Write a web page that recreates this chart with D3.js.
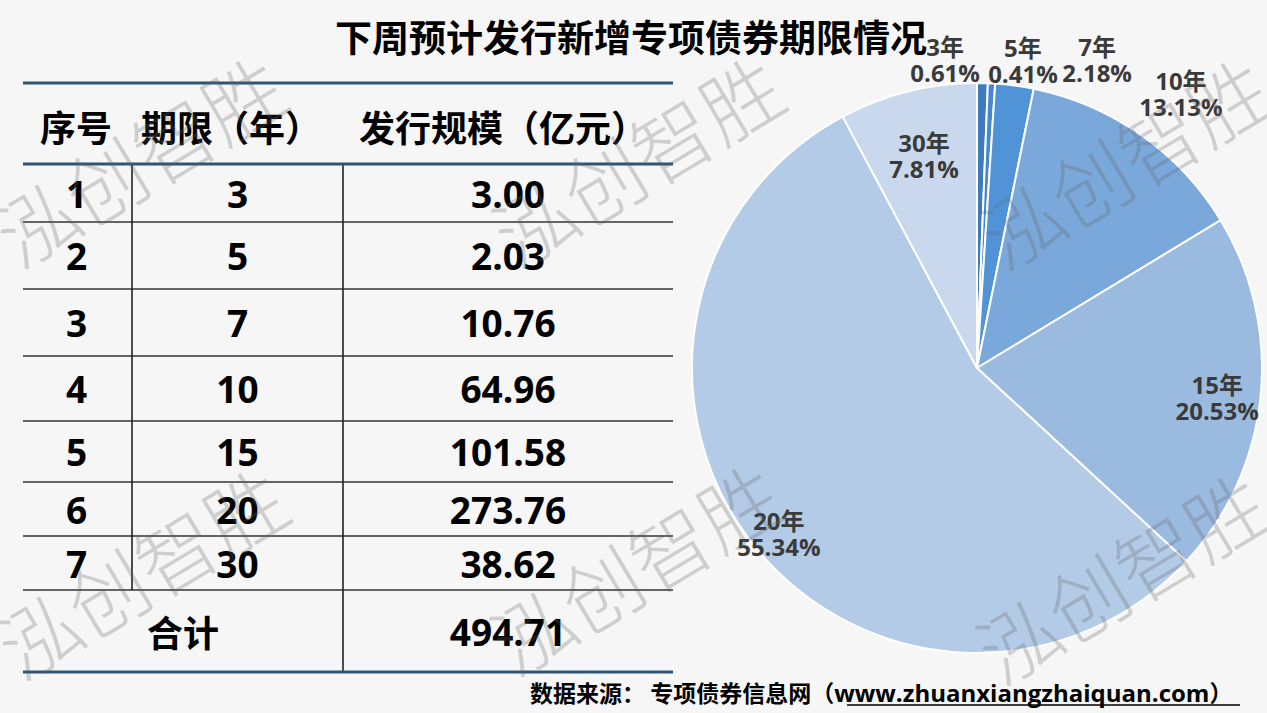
<!DOCTYPE html>
<html>
<head>
<meta charset="utf-8">
<script src="https://cdn.jsdelivr.net/npm/d3@7"></script>
<style>
  html, body { margin: 0; padding: 0; background: #f6f6f6; }
  svg { display: block; }
</style>
</head>
<body>
<svg id="chart" width="1267" height="713"></svg>
<script>
// ---------------- DATA ----------------
const titleText = "下周预计发行新增专项债券期限情况";
const headers = ["序号", "期限（年）", "发行规模（亿元）"];
const seqNos = [1, 2, 3, 4, 5, 6, 7];
const terms = [3, 5, 7, 10, 15, 20, 30];
const amounts = [3.00, 2.03, 10.76, 64.96, 101.58, 273.76, 38.62];
const totalLabel = "合计";
const totalAmount = 494.71;
const sourcePrefix = "数据来源：  专项债券信息网（";
const sourceUrl = "www.zhuanxiangzhaiquan.com";
const sourceSuffix = "）";
const watermarkText = "泓创智胜";

// ---------------- LAYOUT / STYLE ----------------
const W = 1267, H = 713;
const svg = d3.select("#chart");
const latin = "'Open Sans', 'Noto Sans CJK SC', sans-serif";
const cjk = "'Noto Sans CJK SC', 'Open Sans', sans-serif";

svg.append("rect").attr("width", W).attr("height", H).attr("fill", "#f6f6f6");

// Title
svg.append("text")
  .attr("x", 631).attr("y", 36)
  .attr("text-anchor", "middle").attr("dominant-baseline", "central")
  .attr("font-family", cjk).attr("font-weight", 700).attr("font-size", 37)
  .attr("fill", "#000").text(titleText);

// ---------------- TABLE ----------------
const tableX0 = 23, tableX1 = 673;
const colX = [23, 132, 343, 673];
const headerTop = 83, headerBottom = 164;
const rowHeights = [58, 67, 67, 65, 61, 54, 54, 82]; // 7 data rows + total row
const rowBounds = [headerBottom];
rowHeights.forEach(h => rowBounds.push(rowBounds[rowBounds.length - 1] + h));
const thickColor = "#2f5472";

const table = svg.append("g");
// header text
const headerCenters = [76, 231, 503];
headers.forEach((h, i) => {
  table.append("text")
    .attr("x", headerCenters[i]).attr("y", (headerTop + headerBottom) / 2 + 2)
    .attr("text-anchor", "middle").attr("dominant-baseline", "central")
    .attr("font-family", cjk).attr("font-weight", 700).attr("font-size", 36)
    .attr("fill", "#000").text(h);
});
// thin row lines
rowBounds.slice(1, -1).forEach(y => {
  table.append("line").attr("x1", tableX0).attr("x2", tableX1)
    .attr("y1", y).attr("y2", y).attr("stroke", "#333").attr("stroke-width", 1.6);
});
// vertical lines
table.append("line").attr("x1", colX[1]).attr("x2", colX[1])
  .attr("y1", headerBottom).attr("y2", rowBounds[7]).attr("stroke", "#222").attr("stroke-width", 1.6);
table.append("line").attr("x1", colX[2]).attr("x2", colX[2])
  .attr("y1", headerBottom).attr("y2", rowBounds[8]).attr("stroke", "#222").attr("stroke-width", 1.6);
// thick lines
[headerTop, headerBottom, rowBounds[8]].forEach(y => {
  table.append("line").attr("x1", tableX0).attr("x2", tableX1)
    .attr("y1", y).attr("y2", y).attr("stroke", thickColor).attr("stroke-width", 3.2);
});
// rows
const fmt2 = d3.format(".2f");
seqNos.forEach((s, i) => {
  const yc = (rowBounds[i] + rowBounds[i + 1]) / 2;
  const cells = [String(s), String(terms[i]), fmt2(amounts[i])];
  cells.forEach((c, j) => {
    table.append("text")
      .attr("x", (colX[j] + colX[j + 1]) / 2 + (j === 0 ? -1 : 0)).attr("y", yc)
      .attr("text-anchor", "middle").attr("dominant-baseline", "central")
      .attr("font-family", latin).attr("font-weight", 700).attr("font-size", 37)
      .attr("fill", "#000").text(c);
  });
});
{
  const yc = (rowBounds[7] + rowBounds[8]) / 2;
  table.append("text").attr("x", (colX[0] + colX[2]) / 2).attr("y", yc)
    .attr("text-anchor", "middle").attr("dominant-baseline", "central")
    .attr("font-family", cjk).attr("font-weight", 700).attr("font-size", 36)
    .attr("fill", "#000").text(totalLabel);
  table.append("text").attr("x", (colX[2] + colX[3]) / 2).attr("y", yc)
    .attr("text-anchor", "middle").attr("dominant-baseline", "central")
    .attr("font-family", latin).attr("font-weight", 700).attr("font-size", 37)
    .attr("fill", "#000").text(fmt2(totalAmount));
}

// ---------------- PIE ----------------
const cx = 977, cy = 368, R = 285;
const colors = ["#3d7bbd", "#4787cc", "#5093d7", "#7ba8db", "#9bbae0", "#b4cbe7", "#c9d8ec"];
const pieData = terms.map((t, i) => ({ term: t, value: amounts[i], color: colors[i] }));
const pie = d3.pie().sort(null).value(d => d.value);
const arcs = pie(pieData);
const arc = d3.arc().innerRadius(0).outerRadius(R);
const sum = d3.sum(amounts);
const pctFmt = d3.format(".2%");

const pg = svg.append("g").attr("transform", `translate(${cx},${cy})`);
pg.selectAll("path").data(arcs).join("path")
  .attr("d", arc).attr("fill", d => d.data.color)
  .attr("stroke", "#fff").attr("stroke-width", 2).attr("stroke-linejoin", "round");

// label placement (radius factor, angle in degrees clockwise from top)
const labelLayout = [
  { rf: 1.088, a: -5.9 },
  { rf: 1.091, a: 8.5 },
  { rf: 1.161, a: 21.3 },
  { rf: 1.20, a: 36.6 },
  { rf: 0.849, a: 96.9 },
  { rf: 0.905, a: 230.2 },
  { rf: 0.768, a: 346.0 }
];
arcs.forEach((d, i) => {
  const L = labelLayout[i];
  const ang = L.a * Math.PI / 180;
  const x = Math.sin(ang) * L.rf * R;
  const y = -Math.cos(ang) * L.rf * R;
  const t = pg.append("text")
    .attr("text-anchor", "middle")
    .attr("font-family", latin).attr("font-weight", 700).attr("font-size", 24)
    .attr("fill", "#3a3a3a");
  t.append("tspan").attr("x", x).attr("y", y - 13).attr("dominant-baseline", "central")
    .text(d.data.term + "年");
  t.append("tspan").attr("x", x).attr("y", y + 13).attr("dominant-baseline", "central")
    .text(pctFmt(d.data.value / sum));
});

// ---------------- SOURCE ----------------
const src = svg.append("text")
  .attr("x", 530).attr("y", 692).attr("dominant-baseline", "central")
  .attr("font-family", latin).attr("font-weight", 700).attr("font-size", 24)
  .attr("fill", "#000");
src.append("tspan").attr("font-family", cjk).attr("font-size", 23).text(sourcePrefix);
src.append("tspan").text(sourceUrl);
src.append("tspan").attr("font-family", cjk).attr("font-size", 23).text(sourceSuffix);
svg.append("line").attr("x1", 847).attr("x2", 1240).attr("y1", 705).attr("y2", 705)
  .attr("stroke", "#000").attr("stroke-width", 1.5);

// ---------------- WATERMARKS ----------------
const wmPositions = [[138, 158], [636, 158], [1123, 160], [140, 570], [634, 566], [1120, 575]];
const wm = svg.append("g");
wmPositions.forEach(p => {
  wm.append("text")
    .attr("transform", `translate(${p[0]},${p[1]}) rotate(-31)`)
    .attr("text-anchor", "middle").attr("dominant-baseline", "central")
    .attr("font-family", cjk).attr("font-weight", 300).attr("font-size", 80)
    .attr("fill", "rgba(100,100,100,0.27)").text(watermarkText);
});
</script>
</body>
</html>
